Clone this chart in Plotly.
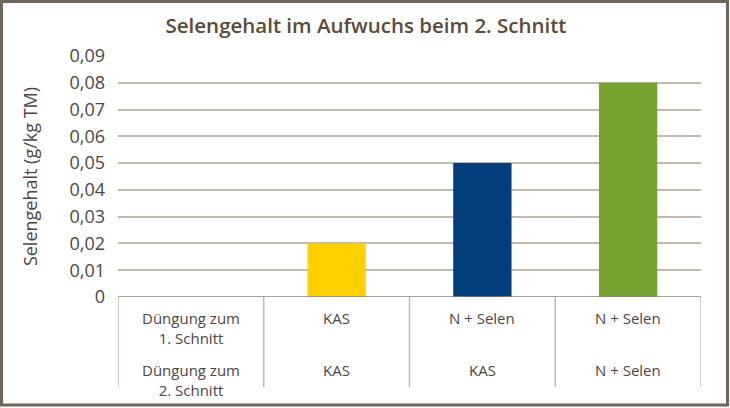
import plotly.graph_objects as go

categories = ["c1", "c2", "c3", "c4"]
values = [0, 0.02, 0.05, 0.08]
bar_colors = ["#ffffff", "#ffd100", "#023e7b", "#77a22f"]
row1_labels = ["Düngung zum<br>1. Schnitt", "KAS", "N + Selen", "N + Selen"]
row2_labels = ["Düngung zum<br>2. Schnitt", "KAS", "KAS", "N + Selen"]
tick_vals = [0, 0.01, 0.02, 0.03, 0.04, 0.05, 0.06, 0.07, 0.08, 0.09]
tick_text = ["0", "0,01", "0,02", "0,03", "0,04", "0,05", "0,06", "0,07", "0,08", "0,09"]

W, H = 730, 408
L, R, T, B = 118, 701, 56, 297
pw, ph = R - L, B - T

def px_x(x):
    return (x - L) / pw

def px_y(y):
    return (B - y) / ph

FONT = "Open Sans"
TXT = "#4d4646"
GRID = "#c2bab0"

fig = go.Figure()
fig.add_trace(go.Bar(
    x=list(range(len(categories))), y=values,
    marker=dict(color=bar_colors, line=dict(width=0)),
    width=0.4, hoverinfo="skip",
))

shapes = []
# table vertical lines
for i in range(len(categories) + 1):
    shapes.append(dict(type="line", xref="x", yref="paper",
                       x0=i - 0.5, x1=i - 0.5, y0=0, y1=px_y(387),
                       line=dict(color=GRID, width=1.5), layer="below"))
# zero line
shapes.append(dict(type="line", xref="paper", yref="y", x0=0, x1=1, y0=0, y1=0,
                   line=dict(color="#8e8478", width=1.5)))
# outer frame
shapes.append(dict(type="rect", xref="paper", yref="paper",
                   x0=px_x(1.5), x1=px_x(727.5), y0=px_y(405), y1=px_y(1.5),
                   line=dict(color="#6f665a", width=3)))

annotations = []
for i, (a, b) in enumerate(zip(row1_labels, row2_labels)):
    annotations.append(dict(x=i, y=0, xref="x", yref="paper", text=a, showarrow=False,
                            yanchor="top", yshift=-9,
                            font=dict(family=FONT, size=15, color=TXT)))
    annotations.append(dict(x=i, y=0, xref="x", yref="paper", text=b, showarrow=False,
                            yanchor="top", yshift=-61,
                            font=dict(family=FONT, size=15, color=TXT)))

fig.update_layout(
    width=W, height=H,
    margin=dict(l=L, r=W - R, t=T, b=H - B),
    paper_bgcolor="white", plot_bgcolor="white",
    showlegend=False,
    title=dict(text="Selengehalt im Aufwuchs beim 2. Schnitt",
               x=px_x(366), xanchor="center", y=1 - 26 / H, yanchor="middle",
               xref="paper", yref="container",
               font=dict(family=FONT, size=20.5, weight=600, color="#5b4a38")),
    xaxis=dict(range=[-0.5, 3.5], showticklabels=False, showgrid=False,
               zeroline=False, showline=False, ticks=""),
    yaxis=dict(range=[0, 0.09], tickvals=tick_vals, ticktext=tick_text,
               showgrid=True, gridcolor=GRID, gridwidth=1.5, zeroline=False,
               showline=False, ticks="", ticklabelstandoff=12,
               tickfont=dict(family=FONT, size=18, color=TXT),
               title=dict(text="Selengehalt (g/kg TM)", standoff=27,
                          font=dict(family=FONT, size=18, color=TXT))),
    shapes=shapes, annotations=annotations,
)

fig.write_html("out.html")
